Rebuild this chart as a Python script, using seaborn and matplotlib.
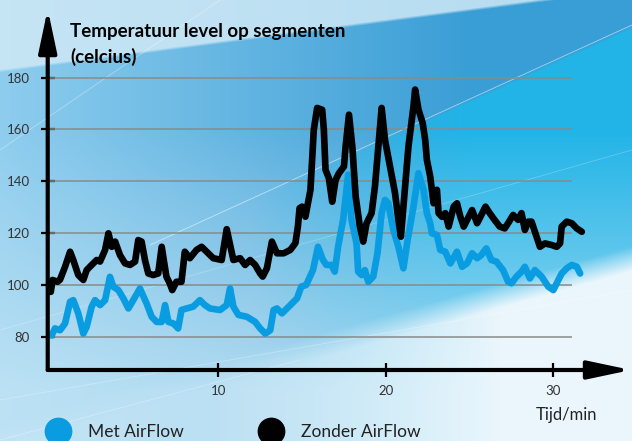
import numpy as np
import pandas as pd
import matplotlib
matplotlib.use("Agg")
import matplotlib.pyplot as plt
import matplotlib.colors as mcolors
from matplotlib.lines import Line2D
import seaborn as sns


# Data
tijd_met = [0.05, 0.25, 0.55, 0.85, 1.15, 1.34, 1.64, 1.94, 2.14, 2.44, 2.64, 2.94, 3.24, 3.53,
            3.73, 4.03, 4.33, 4.63, 4.92, 5.32, 5.72, 6.02, 6.32, 6.62, 6.82, 7.02, 7.32, 7.6,
            7.8, 8.1, 8.5, 8.9, 9.2, 9.5, 10.1, 10.5, 10.7, 10.9, 11.2, 11.7, 12.2, 12.5, 12.8,
            13.1, 13.3, 13.5, 13.8, 14.3, 14.7, 14.95, 15.25, 15.65, 15.95, 16.25, 16.45, 16.75,
            16.95, 17.15, 17.45, 17.75, 17.95, 18.25, 18.35, 18.55, 18.75, 18.95, 19.25, 19.5,
            19.75, 19.95, 20.15, 20.45, 20.75, 21.05, 21.3, 21.65, 21.95, 22.25, 22.45, 22.65,
            22.75, 23.05, 23.25, 23.55, 23.85, 24.25, 24.55, 24.85, 25.15, 25.45, 25.7, 26.0,
            26.3, 26.6, 27.0, 27.3, 27.5, 27.8, 28.1, 28.3, 28.6, 28.9, 29.3, 29.7, 30.0, 30.3,
            30.5, 30.8, 31.1, 31.4, 31.6]
temp_met = [80.5, 83.2, 82.5, 85.1, 93.5, 94.1, 89.0, 81.2, 83.8, 91.6, 94.1, 92.2, 94.1, 103.1,
            99.3, 98.0, 94.8, 90.9, 94.1, 98.6, 92.8, 87.7, 85.7, 85.7, 92.2, 85.7, 85.1, 83.2,
            90.3, 90.9, 91.6, 94.1, 92.2, 90.9, 90.3, 92.2, 98.6, 91.6, 88.4, 87.7, 85.7, 83.2, 81.2,
            82.5, 90.3, 90.9, 89.0, 92.2, 94.8, 99.3, 100.0, 105.7, 114.7, 109.6, 107.7, 107.7,
            105.1, 114.7, 125.1, 142.5, 125.1, 116.0, 105.1, 103.8, 105.7, 101.2, 103.2, 112.2,
            127.7, 132.8, 131.5, 121.2, 114.7, 106.4, 117.3, 130.2, 143.1, 136.7, 127.7, 123.8,
            119.9, 119.3, 113.5, 112.8, 108.3, 112.8, 107.0, 108.3, 112.2, 110.3, 111.5, 114.1,
            109.6, 109.0, 105.7, 101.2, 100.6, 103.2, 105.1, 107.0, 102.5, 105.7, 103.2, 99.3, 98.0,
            101.9, 104.4, 106.4, 107.7, 107.0, 104.4]

tijd_zonder = [0.0, 0.1, 0.4, 0.55, 0.85, 1.15, 1.34, 1.64, 1.94, 2.14, 2.44, 2.74, 2.94, 3.24,
               3.44, 3.64, 3.84, 4.13, 4.43, 4.73, 5.03, 5.22, 5.42, 5.62, 5.82, 6.11, 6.41, 6.62,
               6.9, 7.1, 7.25, 7.5, 7.8, 8.0, 8.3, 8.7, 9.0, 9.3, 9.7, 10.2, 10.5, 10.75, 10.9,
               11.3, 11.6, 11.9, 12.2, 12.5, 12.65, 12.9, 13.2, 13.5, 13.9, 14.3, 14.6, 14.75, 14.85,
               15.0, 15.2, 15.5, 15.7, 15.9, 16.2, 16.3, 16.4, 16.6, 16.7, 16.8, 17.0, 17.2, 17.5,
               17.6, 17.8, 18.0, 18.2, 18.45, 18.65, 18.85, 19.15, 19.35, 19.55, 19.75, 19.95,
               20.25, 20.55, 20.75, 20.9, 21.05, 21.35, 21.65, 21.75, 21.95, 22.2, 22.35, 22.45,
               22.65, 22.85, 23.05, 23.15, 23.35, 23.55, 23.75, 24.05, 24.25, 24.45, 24.65, 24.95,
               25.15, 25.45, 25.65, 25.95, 26.2, 26.5, 26.8, 27.1, 27.3, 27.6, 27.9, 28.1, 28.3,
               28.5, 28.7, 28.9, 29.2, 29.5, 29.9, 30.2, 30.4, 30.5, 30.8, 31.1, 31.4, 31.7]
temp_zonder = [97.3, 101.9, 101.2, 102.0, 107.0, 112.8, 109.6, 103.8, 101.9, 105.7, 107.7, 109.6,
               109.0, 113.5, 119.9, 114.7, 116.7, 111.5, 108.3, 107.7, 109.0, 117.3, 116.7, 109.6,
               104.4, 103.8, 104.4, 114.7, 103.2, 100.6, 98.0, 101.2, 101.2, 112.8, 110.3, 113.5,
               114.7, 112.8, 110.3, 109.6, 121.5, 114.0, 109.6, 110.3, 107.7, 109.6, 107.7, 104.4,
               103.2, 106.4, 116.7, 112.2, 112.2, 113.5, 116.1, 122.5, 129.6, 130.2, 126.3, 136.7,
               159.9, 168.3, 167.6, 159.9, 144.4, 141.2, 136.7, 132.1, 140.5, 143.1, 145.7, 153.4,
               165.7, 153.4, 134.1, 122.5, 116.7, 123.8, 127.7, 138.0, 153.4, 168.3, 156.0, 145.7,
               135.4, 125.1, 118.6, 130.2, 153.4, 168.9, 175.4, 167.6, 162.5, 156.0, 148.3, 141.8,
               131.5, 136.7, 127.7, 126.3, 127.7, 122.5, 130.2, 131.5, 126.3, 122.5, 126.3, 128.9,
               123.8, 126.3, 130.2, 127.7, 125.0, 122.5, 121.8, 123.8, 127.0, 125.1, 127.7, 121.2,
               124.4, 124.4, 120.5, 114.7, 116.0, 115.4, 114.7, 116.0, 122.5, 124.4, 123.8, 121.8,
               120.5]

series_names = ["Met AirFlow", "Zonder AirFlow"]
series_colors = ["#0a9ce0", "#000000"]
y_ticks = [80, 100, 120, 140, 160, 180]
x_ticks = [10, 20, 30]
title = "Temperatuur level op segmenten\n(celcius)"
x_label = "Tijd/min"

df = pd.concat([
    pd.DataFrame({"tijd": tijd_met, "temp": temp_met, "serie": series_names[0]}),
    pd.DataFrame({"tijd": tijd_zonder, "temp": temp_zonder, "serie": series_names[1]}),
])

sns.set_theme(style="white")
plt.rcParams["font.family"] = ["Lato", "DejaVu Sans"]

fig = plt.figure(figsize=(6.32, 4.41), dpi=100)

# Background gradient (decoration only)
H, W = 441, 632
yy, xx = np.mgrid[0:H, 0:W].astype(float)
def rgb(h):
    return np.array(mcolors.to_rgb(h))
t = np.clip(xx / 470, 0, 1)[..., None]
img = rgb("#8ecdee") * (1 - t) + rgb("#3a9ed6") * t
cyan = np.clip((yy - (117 - 0.455 * (xx - 430))) / 3, 0, 1) * np.clip((xx - 250) / 220, 0, 1)
img = img * (1 - cyan[..., None]) + rgb("#22b4e7") * cyan[..., None]
v = (np.clip((yy - 130) / 260, 0, 1) * 0.75)[..., None]
img = img * (1 - v) + rgb("#cbe8f6") * v
low = np.clip((yy - (330 - 0.28 * (xx - 330))) / 25, 0, 1) * np.clip((xx - 150) / 350, 0.15, 1)
img = img * (1 - low[..., None]) + rgb("#eaf6fc") * low[..., None]
top = np.clip(((72 - 0.13 * xx) - yy) / 3, 0, 1) * 0.85
img = img * (1 - top[..., None]) + rgb("#cfe9f6") * top[..., None]

bg = fig.add_axes([0, 0, 1, 1], zorder=-1)
bg.imshow(img, aspect="auto", extent=(0, W, H, 0))
for (x0, y0, x1, y1, a) in [(632, 25, 150, 245, 0.55), (0, 150, 220, 0, 0.35),
                            (0, 330, 632, 150, 0.25), (0, 400, 632, 290, 0.3),
                            (0, 440, 300, 360, 0.3)]:
    bg.plot([x0, x1], [y0, y1], color="white", lw=0.6, alpha=a)
bg.set_xlim(0, W)
bg.set_ylim(H, 0)
bg.axis("off")

# Main axes
ax = fig.add_axes([0.0755, 0.161, 0.923, 0.8186])
ax.set_facecolor("none")
ax.set_xlim(-0.185, 34.64)
ax.set_ylim(67.14, 206.5)

ax.hlines(y_ticks, -0.185, 31.1, color="#8a8a8a", lw=1.1, zorder=1)

sns.lineplot(data=df, x="tijd", y="temp", hue="serie", hue_order=series_names,
             palette=series_colors, estimator=None, sort=False, linewidth=4.8,
             legend=False, ax=ax, zorder=3,
             solid_joinstyle="round", solid_capstyle="round")

for s in ax.spines.values():
    s.set_visible(False)

arrow = dict(arrowstyle="-|>,head_length=2.6,head_width=0.55", lw=3, color="black",
             shrinkA=0, shrinkB=0, mutation_scale=10)
ax.annotate("", xy=(1, 0), xytext=(0, 0), xycoords="axes fraction", arrowprops=arrow, zorder=4)
ax.annotate("", xy=(0, 1), xytext=(0, 0), xycoords="axes fraction", arrowprops=arrow, zorder=4)

ax.set_xticks(x_ticks)
ax.set_yticks(y_ticks)
ax.tick_params(axis="both", direction="inout", length=9.5, width=1.6, color="black",
               labelcolor="#333333", labelsize=9.5, bottom=True, left=True)
ax.tick_params(axis="y", pad=8)
ax.tick_params(axis="x", pad=6)
ax.set_xlabel("")
ax.set_ylabel("")

fig.text(70 / 632, 1 - 23 / 441, title, fontsize=13.5, fontweight="bold", color="black",
         ha="left", va="top", linespacing=1.55)
fig.text(566 / 632, 1 - 415 / 441, x_label, fontsize=12, color="#222222",
         ha="center", va="center")

# Legend, one entry each so the positions match
for name, col, xpos in zip(series_names, series_colors, [49.5 / 632, 262.5 / 632]):
    h = Line2D([], [], marker="o", linestyle="none", markersize=19, color=col)
    fig.legend(handles=[h], labels=[name], loc="center left", bbox_to_anchor=(xpos, 0.02),
               frameon=False, borderpad=0, borderaxespad=0, handlelength=1.0,
               handletextpad=1.2, fontsize=12.5, labelcolor="#222222")

fig.savefig("out.png", dpi=100)
